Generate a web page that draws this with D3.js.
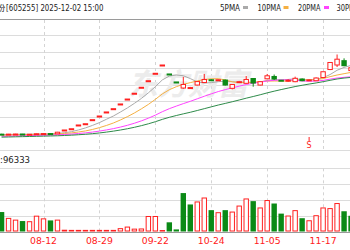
<!DOCTYPE html>
<html><head><meta charset="utf-8">
<script src="https://cdn.jsdelivr.net/npm/d3@7"></script>
<style>body{margin:0;background:#fff}svg{display:block}text{font-family:"DejaVu Sans","Noto Sans CJK SC",sans-serif}</style>
</head><body><svg id="c" width="350" height="250"></svg>
<script>
// ---- data ----
const stockName = "天普股份";
const stockInfo = "[605255] 2025-12-02 15:00";
const maNames = ["5PMA","10PMA","20PMA","30PMA"];
const maPeriods = [5,10,20,30];
const tickIndex = [6,14,22,30,38,46];
const tickLabels = ["08-12","08-29","09-22","10-24","11-05","11-17"];
const priorCloses = [15.2,15.4,15.3,15.6,15.8,15.7,16.0,16.2,16.1,16.4,16.6,16.5,16.8,17.0,17.2,17.1,17.4,17.6,17.9,18.1,18.3,18.6,18.9,19.2,19.4,19.7,19.9,20.1,20.3];
const opens  = [20.6,20.1,20.5,20.7,20.3,20.5,21.0,21.2,20.9,24.9,26.2,30.1,31.4,35.6,39.4,43.6,47.0,51.9,57.0,63.0,69.2,76.0,83.7,92.3,83.0,74.7,68.4,68.6,71.5,74.1,77.0,76.5,76.7,68.1,74.5,73.3,78.3,71.5,78.0,80.4,76.5,75.7,75.0,77.8,76.4,76.0,79.3,87.6,92.3,96.8,86.5];
const highs  = [20.9,20.8,20.9,20.8,20.7,21.3,21.4,21.3,22.9,24.9,26.2,30.1,31.4,35.6,39.4,43.6,47.0,51.9,57.0,63.0,69.2,76.0,83.7,92.3,83.0,74.7,80.0,69.6,75.5,83.0,77.8,77.6,77.2,72.5,75.8,80.9,78.8,75.5,83.0,82.4,76.8,77.5,80.2,78.4,77.5,79.4,85.7,95.4,103.2,99.2,90.5];
const lows   = [19.9,20.0,20.2,20.1,20.1,20.4,20.7,20.6,20.8,24.9,26.2,30.1,31.4,35.6,39.4,43.6,47.0,51.9,57.0,63.0,69.2,76.0,83.7,92.3,83.0,74.7,67.6,68.0,71.0,73.6,75.9,76.0,71.0,67.0,74.0,72.8,69.8,71.2,77.5,76.7,75.8,74.7,74.5,75.5,75.9,75.7,78.9,87.0,90.2,91.0,85.5];
const closes = [20.1,20.6,20.7,20.3,20.5,21.0,21.2,20.8,22.6,24.9,26.2,30.1,31.4,35.6,39.4,43.6,47.0,51.9,57.0,63.0,69.2,76.0,83.7,92.3,83.0,74.7,72.1,68.9,75.1,77.3,76.6,77.0,71.5,72.1,75.0,77.3,73.6,75.0,81.1,77.8,76.2,76.5,78.5,76.0,76.9,78.8,85.3,94.9,98.3,91.6,89.5];
const volumes = [120000,83000,72000,63000,62000,97000,80000,67000,72000,8000,7000,7000,7000,7000,7000,7000,7000,18000,28000,15000,16000,95000,95000,6000,55000,10000,240000,168000,187000,212000,132000,119000,132000,123000,161000,206000,189000,149000,196000,174000,110000,98000,132000,81000,68000,100000,149000,145000,177000,125000,96333];
const markerIndex = 44;
const priceGrid = [4,21,38,55,72,89,106,123,140];
const volGrid = [0,100000,200000,300000,400000];

// ---- drawing ----
const svg = d3.select("#c");
const RED = "#ff2020", GREEN = "#0b8a16";
const maColors = ["#aaaaaa","#f5b042","#ff44ff","#2e8b4a"];
const x = d3.scaleLinear().domain([6,46]).range([43.5,323.1]);
const yP = d3.scaleLinear().domain([0,140]).range([154,19]);
const yV = d3.scaleLinear().domain([0,400000]).range([231.5,168.3]);
const bw = 4.4;

svg.append("rect").attr("width",350).attr("height",250).attr("fill","#fff");

// header
const hd = svg.append("g").attr("font-size",8.2).attr("fill","#222");
hd.append("text").attr("x",5.2).attr("y",10.8).attr("text-anchor","end").attr("font-family","Noto Sans CJK SC").attr("font-size",8.5).text(stockName);
hd.append("text").attr("x",6).attr("y",10.8).attr("textLength",97.5).attr("lengthAdjust","spacingAndGlyphs").attr("xml:space","preserve").text(stockInfo);
const leg = svg.append("g").attr("font-size",8).attr("fill","#222");
const legX = [220,257.5,298,336.5];
const legW = [20,23.5,22.5,23];
maNames.forEach((n,i)=>{
  leg.append("text").attr("x",legX[i]).attr("y",10.8).attr("textLength",legW[i]).attr("lengthAdjust","spacingAndGlyphs").text(n);
  leg.append("rect").attr("x",legX[i]+ (i===0?23:26)).attr("y",6).attr("width",5).attr("height",3).attr("fill",maColors[i]);
});

// price grid
svg.append("g").selectAll("line").data(priceGrid).join("line")
  .attr("x1",0).attr("x2",350).attr("y1",d=>Math.round(yP(d))+0.5).attr("y2",d=>Math.round(yP(d))+0.5)
  .attr("stroke",(d,i)=>i===priceGrid.length-1?"#9a9a9a":"#dcdcdc").attr("stroke-width",1);
// volume grid
svg.append("g").selectAll("line").data(volGrid).join("line")
  .attr("x1",0).attr("x2",350).attr("y1",d=>Math.round(yV(d))+0.5).attr("y2",d=>Math.round(yV(d))+0.5)
  .attr("stroke",(d,i)=>i===0?"#9a9a9a":"#dcdcdc").attr("stroke-width",1);
// vertical dashed
const vg = svg.append("g").attr("stroke","#d4d4d4").attr("stroke-dasharray","3,3");
tickIndex.forEach(t=>{
  const xx = Math.round(x(t))+0.5;
  vg.append("line").attr("x1",xx).attr("x2",xx).attr("y1",yP(140)+1).attr("y2",yP(4));
  vg.append("line").attr("x1",xx).attr("x2",xx).attr("y1",yV(400000)).attr("y2",yV(0));
});

// watermark
svg.append("text").attr("x",128).attr("y",95).attr("font-size",30).attr("font-weight","bold")
  .attr("font-style","italic").attr("fill","#ececec").attr("font-family","Noto Sans CJK SC").text("东方财富");

// MAs
const allCloses = priorCloses.concat(closes);
const off = priorCloses.length;
svg.append("defs").append("clipPath").attr("id","pc").append("rect").attr("x",0).attr("y",19).attr("width",350).attr("height",131);
const pg = svg.append("g").attr("clip-path","url(#pc)");
maPeriods.forEach((p,mi)=>{
  const pts = closes.map((c,i)=>{
    const j = i+off; const s = allCloses.slice(Math.max(0,j-p+1),j+1);
    return [i, d3.mean(s)];
  });
  pg.append("path").datum(pts).attr("fill","none").attr("stroke",maColors[mi]).attr("stroke-width",1)
    .attr("d",d3.line().x(d=>x(d[0])).y(d=>yP(d[1])));
});

// candles
const dir = closes.map((c,i)=>{
  if (c>opens[i]) return 1; if (c<opens[i]) return -1;
  const pc = i>0?closes[i-1]:c; return c>=pc?1:-1;
});
closes.forEach((c,i)=>{
  const col = dir[i]>0?RED:GREEN;
  const cx = x(i);
  const top = yP(Math.max(opens[i],c)), bot = yP(Math.min(opens[i],c));
  pg.append("line").attr("x1",cx).attr("x2",cx).attr("y1",yP(highs[i])).attr("y2",top).attr("stroke",col);
  pg.append("line").attr("x1",cx).attr("x2",cx).attr("y1",bot).attr("y2",yP(lows[i])).attr("stroke",col);
  const h = Math.max(bot-top,1);
  if (dir[i]>0) pg.append("rect").attr("x",cx-bw/2).attr("y",top).attr("width",bw).attr("height",h).attr("fill","#fff").attr("stroke",col);
  else pg.append("rect").attr("x",cx-bw/2-0.5).attr("y",top-0.5).attr("width",bw+1).attr("height",h+1).attr("fill",col);
});
// S marker
const mx = x(markerIndex);
svg.append("line").attr("x1",mx).attr("x2",mx).attr("y1",137).attr("y2",141).attr("stroke",RED);
svg.append("text").attr("x",mx).attr("y",148).attr("text-anchor","middle").attr("font-size",8).attr("fill",RED).text("S");

// volume label
svg.append("text").attr("x",30).attr("y",163.3).attr("text-anchor","end").attr("font-size",8.5).attr("fill","#222").text("成交量:"+volumes[volumes.length-1]);

// volume bars
volumes.forEach((v,i)=>{
  const up = i===0 ? dir[i]>0 : closes[i]>=closes[i-1];
  const col = up?RED:GREEN;
  const cx = x(i), t = yV(v), h = Math.max(yV(0)-t,1);
  if (up) svg.append("rect").attr("x",cx-bw/2).attr("y",t).attr("width",bw).attr("height",h-0.5).attr("fill","#fff").attr("stroke",col);
  else svg.append("rect").attr("x",cx-bw/2-0.5).attr("y",t-0.5).attr("width",bw+1).attr("height",h+0.5).attr("fill",col);
});

// x labels
svg.append("g").selectAll("text").data(tickIndex).join("text")
  .attr("x",d=>x(d)).attr("y",244).attr("text-anchor","middle").attr("font-size",9.3).attr("fill",RED)
  .text((d,i)=>tickLabels[i]);
</script></body></html>
